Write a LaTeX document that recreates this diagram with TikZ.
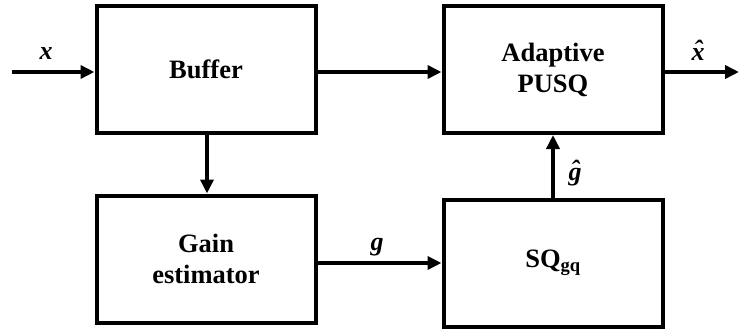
\documentclass[tikz,border=0pt]{standalone}
\usepackage{fontspec}
\setmainfont{Liberation Serif}
\usetikzlibrary{arrows.meta}
\newcommand\hatlab[1]{\ooalign{#1\cr\hidewidth\raisebox{0.08em}{ˆ}\hidewidth\cr}}
\begin{document}
\begin{tikzpicture}[x=1pt,y=-1pt,
  blk/.style={draw, line width=4pt, inner sep=0pt, minimum width=219pt, minimum height=127pt, align=center, font=\fontsize{26.5}{31}\selectfont\bfseries},
  conn/.style={line width=4pt, -{Triangle[length=14pt,width=13pt]}},
  lab/.style={font=\fontsize{26}{30}\selectfont\bfseries\itshape}]
\useasboundingbox (0,0) rectangle (739,329);
\node[blk] (buf) at (206,69.5) {Buffer};
\node[blk] (pusq) at (553,69.5) {Adaptive\\PUSQ};
\node[blk] (gain) at (206,259) {Gain\\estimator};
\node[blk] (sq) at (553,263) {SQ\textsubscript{gq}};
\coordinate (in) at (12,72);
\coordinate (out) at (739,72);
\draw[conn] (in) -- (in -| buf.west);
\draw[conn] (in -| buf.east) -- (in -| pusq.west);
\draw[conn] (in -| pusq.east) -- (out);
\draw[conn] (buf.south -| 207,0) -- (gain.north -| 207,0);
\draw[conn] (sq.west -| gain.east) -- (sq.west);
\draw[conn] (sq.north) -- (pusq.south);
\node[lab] (lx) at (46,54) {x};
\node[lab] (lxh) at (698,55) {\hatlab{x}};
\node[lab] (lg) at (377,247) {g};
\node[lab] (lgh) at (575,174) {\hatlab{g}};
\end{tikzpicture}
\end{document}
